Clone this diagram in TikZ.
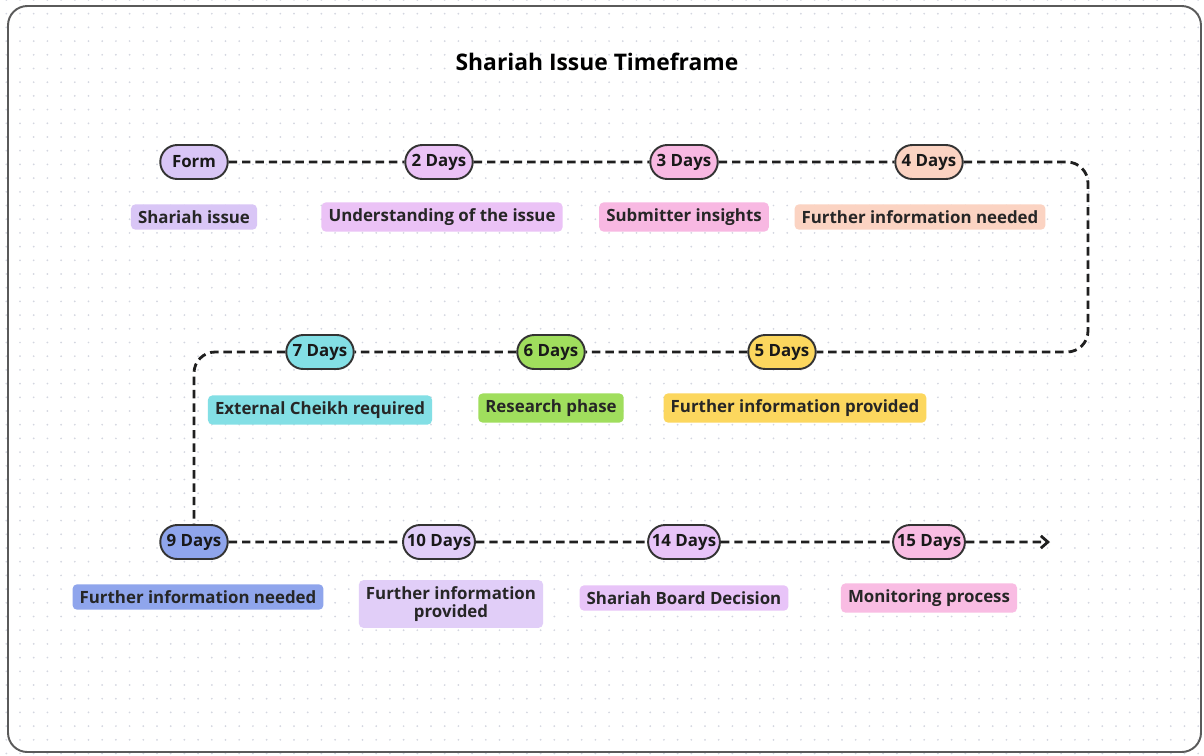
\documentclass[tikz,border=0pt]{standalone}
\usepackage{fontspec}
\setmainfont{Open Sans}
\usetikzlibrary{arrows.meta,shapes.misc}

\definecolor{pillline}{HTML}{333333}
\definecolor{dotc}{HTML}{D3D6E0}
\definecolor{framec}{HTML}{5A5A5A}
\definecolor{cForm}{HTML}{D9C6F6}
\definecolor{cTwo}{HTML}{EBC2F6}
\definecolor{cThree}{HTML}{F8B8E2}
\definecolor{cFour}{HTML}{FBD3C2}
\definecolor{cFive}{HTML}{FCD75E}
\definecolor{cSix}{HTML}{A0DE5D}
\definecolor{cSeven}{HTML}{83DFE5}
\definecolor{cNine}{HTML}{8FA5EC}
\definecolor{cTen}{HTML}{E1CEF8}
\definecolor{cFourteen}{HTML}{E8C4F8}
\definecolor{cFifteen}{HTML}{F9BCE3}

\tikzset{
  day/.style={rounded rectangle, draw=pillline, line width=1.1pt,
    minimum width=1.42cm, minimum height=0.68cm, inner sep=1pt,
    font=\bfseries\fontsize{9.6}{11}\selectfont, text=black!90},
  tag/.style={rounded corners=2.5pt, inner xsep=4pt, inner ysep=3.5pt,
    font=\bfseries\fontsize{9.6}{10.5}\selectfont, text=black!85, align=center},
  flow/.style={line width=1.6pt, dash pattern=on 4.8pt off 2.8pt, black!88}
}

\begin{document}
\begin{tikzpicture}[x=0.02cm,y=-0.02cm]
    \useasboundingbox (0,0) rectangle (1204,755);
    \clip (0,0) rectangle (1204,755);
    \fill[white] (0,0) rectangle (1204,755);
    % dotted grid
    \foreach \i in {0,...,87}
      \foreach \j in {0,...,55}
        \fill[dotc] (6.3+\i*13.7, \j*13.7) circle (0.55pt);
    \draw[framec, line width=1.1pt, rounded corners=11pt] (8,6) rectangle (1201,752);

    \node [font=\bfseries\fontsize{13}{15}\selectfont] (title) at (597,62) {Shariah Issue Timeframe};

    % first row
    \node [day, fill=cForm]  (form) at (194,162) {Form};
    \node [day, fill=cTwo]   (d2)   at (439,162) {2 Days};
    \node [day, fill=cThree] (d3)   at (684,162) {3 Days};
    \node [day, fill=cFour]  (d4)   at (929,162) {4 Days};
    \node [tag, fill=cForm]  (l1)   at (194,217) {Shariah issue};
    \node [tag, fill=cTwo]   (l2)   at (442,217) {Understanding of the issue};
    \node [tag, fill=cThree] (l3)   at (684,217) {Submitter insights};
    \node [tag, fill=cFour]  (l4)   at (920,217) {Further information needed};

    % second row
    \node [day, fill=cFive]  (d5)   at (782,352) {5 Days};
    \node [day, fill=cSix]   (d6)   at (551,352) {6 Days};
    \node [day, fill=cSeven] (d7)   at (320,352) {7 Days};
    \node [tag, fill=cFive]  (l5)   at (795,408) {Further information provided};
    \node [tag, fill=cSix]   (l6)   at (551,408) {Research phase};
    \node [tag, fill=cSeven] (l7)   at (320,410) {External Cheikh required};

    % third row
    \node [day, fill=cNine]     (d9)  at (194,542) {9 Days};
    \node [day, fill=cTen]      (d10) at (439,542) {10 Days};
    \node [day, fill=cFourteen] (d14) at (684,542) {14 Days};
    \node [day, fill=cFifteen]  (d15) at (929,542) {15 Days};
    \node [tag, fill=cNine]     (l9)  at (198,597) {Further information needed};
    \node [tag, fill=cTen]      (l10) at (451,604) {Further information\\provided};
    \node [tag, fill=cFourteen] (l14) at (684,598) {Shariah Board Decision};
    \node [tag, fill=cFifteen]  (l15) at (929,598) {Monitoring process};

    \coordinate (bendR) at (1088,257);
    \coordinate (stop)  at (1050,542);

    \draw [flow] (form) -- (d2);
    \draw [flow] (d2) -- (d3);
    \draw [flow] (d3) -- (d4);
    \draw [flow, rounded corners=12pt] (d4.east) -| (bendR) |- (d5.east);
    \draw [flow] (d5) -- (d6);
    \draw [flow] (d6) -- (d7);
    \draw [flow, rounded corners=12pt] (d7.west) -| (d9.north);
    \draw [flow] (d9) -- (d10);
    \draw [flow] (d10) -- (d14);
    \draw [flow] (d14) -- (d15);
    \draw [flow, -{Straight Barb[length=4pt,width=7pt]}] (d15) -- (stop);
\end{tikzpicture}
\end{document}
